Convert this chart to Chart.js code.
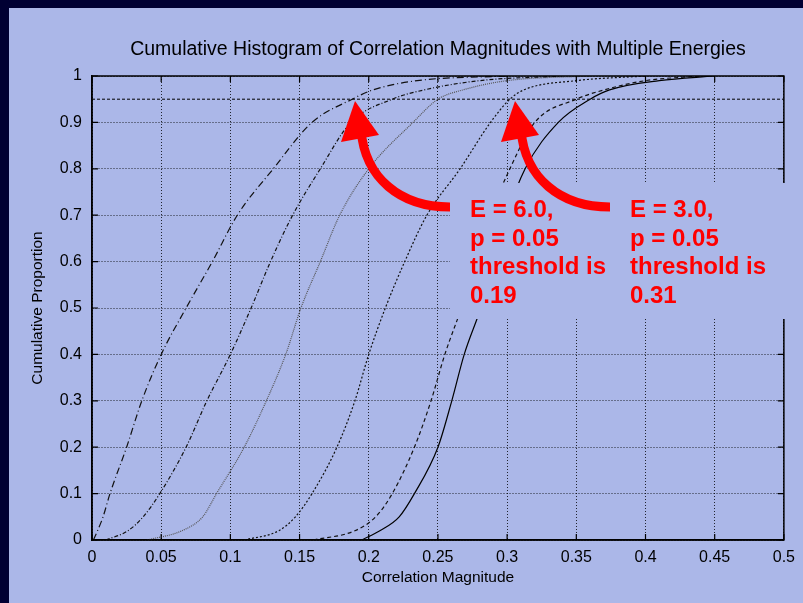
<!DOCTYPE html>
<html>
<head>
<meta charset="utf-8">
<script src="https://cdn.jsdelivr.net/npm/chart.js@4.4.1/dist/chart.umd.min.js"></script>
<style>
  html,body{margin:0;padding:0;background:#000033;}
</style>
</head>
<body>
<canvas id="c" width="803" height="603"></canvas>
<script>
// cumulative proportion levels, shared by every curve
const props = [0, 0.02, 0.05, 0.1, 0.2, 0.3, 0.4, 0.5, 0.6, 0.7, 0.8, 0.9, 0.95, 0.97, 0.99, 1];

// correlation magnitude reached at each level, one array per energy run (left to right)
const magA = [0.001, 0.004, 0.008, 0.013, 0.025, 0.036, 0.050, 0.068, 0.087, 0.105, 0.131, 0.159, 0.188, 0.203, 0.235, 0.30];
const magB = [0.010, 0.026, 0.037, 0.049, 0.068, 0.083, 0.100, 0.115, 0.129, 0.145, 0.165, 0.187, 0.217, 0.240, 0.280, 0.34];
const magC = [0.040, 0.065, 0.080, 0.090, 0.110, 0.126, 0.140, 0.151, 0.165, 0.179, 0.200, 0.232, 0.250, 0.268, 0.300, 0.36];
const magD = [0.110, 0.135, 0.147, 0.159, 0.177, 0.190, 0.200, 0.212, 0.226, 0.242, 0.266, 0.288, 0.302, 0.312, 0.350, 0.40];
const magE = [0.160, 0.190, 0.205, 0.217, 0.233, 0.245, 0.255, 0.267, 0.278, 0.288, 0.302, 0.320, 0.350, 0.370, 0.400, 0.44];
const magF = [0.195, 0.208, 0.222, 0.233, 0.250, 0.260, 0.269, 0.281, 0.291, 0.300, 0.313, 0.337, 0.360, 0.374, 0.410, 0.45];

const xTicks = [0, 0.05, 0.1, 0.15, 0.2, 0.25, 0.3, 0.35, 0.4, 0.45, 0.5];
const yTicks = [0, 0.1, 0.2, 0.3, 0.4, 0.5, 0.6, 0.7, 0.8, 0.9, 1];
const cutoff = 0.95;

const energies = ['6.0', '3.0'];
const pValues = ['0.05', '0.05'];
const thresholds = ['0.19', '0.31'];

const paper = '#abb7e8';
const red = '#ff0000';
const sans = '"Liberation Sans", Arial, sans-serif';

const runs = [
  {mag: magA, dash: [7,3,1,3], color: '#111'},
  {mag: magB, dash: [4,2,1,2], color: '#111'},
  {mag: magC, dash: [1,1],     color: '#555'},
  {mag: magD, dash: [2,2],     color: '#111'},
  {mag: magE, dash: [4,3],     color: '#111'},
  {mag: magF, dash: [],        color: '#000'}
];

const datasets = runs.map(r => ({
  data: r.mag.map((m, i) => ({x: m, y: props[i]})),
  borderColor: r.color,
  borderDash: r.dash,
  borderWidth: 1.2,
  cubicInterpolationMode: 'monotone'
}));
// the p = 0.05 cut
datasets.push({
  data: [{x: xTicks[0], y: cutoff}, {x: xTicks[xTicks.length-1], y: cutoff}],
  borderColor: '#000',
  borderDash: [3,2],
  borderWidth: 1
});

function arrow(ctx, dx){
  ctx.strokeStyle = red;
  ctx.lineWidth = 9;
  ctx.lineCap = 'butt';
  ctx.beginPath();
  ctx.moveTo(450+dx, 207);
  ctx.bezierCurveTo(400+dx, 207, 365+dx, 178, 361+dx, 130);
  ctx.stroke();
  ctx.fillStyle = red;
  ctx.beginPath();
  ctx.moveTo(355+dx, 101);
  ctx.lineTo(341+dx, 142);
  ctx.lineTo(379+dx, 135);
  ctx.closePath();
  ctx.fill();
}

const decor = {
  id: 'decor',
  beforeDraw(chart){
    const ctx = chart.ctx;
    ctx.save();
    ctx.fillStyle = '#000033';
    ctx.fillRect(0, 0, chart.width, chart.height);
    ctx.fillStyle = paper;
    ctx.fillRect(9, 8, chart.width-9, chart.height-8);
    ctx.restore();
  },
  afterDraw(chart){
    const {ctx, chartArea: a, scales: {x, y}} = chart;
    ctx.save();
    // frame and inward tics on all four sides
    ctx.strokeStyle = '#000';
    ctx.lineWidth = 1.5;
    ctx.strokeRect(a.left, a.top, a.right-a.left, a.bottom-a.top);
    ctx.lineWidth = 1.2;
    ctx.beginPath();
    xTicks.forEach(v => {
      const px = x.getPixelForValue(v);
      ctx.moveTo(px, a.bottom); ctx.lineTo(px, a.bottom-6);
      ctx.moveTo(px, a.top); ctx.lineTo(px, a.top+6);
    });
    yTicks.forEach(v => {
      const py = y.getPixelForValue(v);
      ctx.moveTo(a.left, py); ctx.lineTo(a.left+6, py);
      ctx.moveTo(a.right, py); ctx.lineTo(a.right-6, py);
    });
    ctx.stroke();

    // note panel sits over the plot
    ctx.fillStyle = paper;
    ctx.fillRect(450, 183, chart.width-450, 136);
    arrow(ctx, 0);
    arrow(ctx, 160);

    ctx.fillStyle = red;
    ctx.font = 'bold 24px ' + sans;
    ctx.textBaseline = 'alphabetic';
    energies.forEach((e, i) => {
      const lines = ['E = ' + e + ',', 'p = ' + pValues[i], 'threshold is', thresholds[i]];
      lines.forEach((t, j) => ctx.fillText(t, 470 + 160*i, 217 + 28.7*j));
    });
    ctx.restore();
  }
};

new Chart(document.getElementById('c'), {
  type: 'line',
  data: {datasets: datasets},
  options: {
    responsive: false,
    animation: false,
    devicePixelRatio: 1,
    layout: {padding: {left: 9, top: 8, right: 14, bottom: 0}},
    elements: {point: {radius: 0}, line: {tension: 0}},
    plugins: {
      legend: {display: false},
      tooltip: {enabled: false},
      title: {
        display: true,
        fullSize: false,
        text: 'Cumulative Histogram of Correlation Magnitudes with Multiple Energies',
        color: '#000',
        font: {family: sans, size: 19.5, weight: 'normal'},
        padding: {top: 30.3, bottom: 14.3}
      }
    },
    scales: {
      x: {
        type: 'linear', min: 0, max: 0.5,
        afterBuildTicks: s => { s.ticks = xTicks.map(v => ({value: v})); },
        afterFit: s => { s.height = 63; },
        ticks: {autoSkip: false, maxRotation: 0, padding: 8, color: '#000',
                font: {family: sans, size: 16}, callback: v => String(v)},
        grid: {color: 'rgba(0,0,0,0.8)', lineWidth: 1, drawTicks: false},
        border: {display: true, color: '#000', width: 1.5, dash: [1,2]},
        title: {display: true, text: 'Correlation Magnitude', color: '#000',
                font: {family: sans, size: 15.5}, padding: {top: 0, bottom: 15.7}}
      },
      y: {
        type: 'linear', min: 0, max: 1,
        afterBuildTicks: s => { s.ticks = yTicks.map(v => ({value: v})); },
        afterFit: s => { s.width = 83; },
        ticks: {padding: 10, color: '#000', font: {family: sans, size: 16}, callback: v => String(v)},
        grid: {color: 'rgba(0,0,0,0.8)', lineWidth: 1, drawTicks: false},
        border: {display: true, color: '#000', width: 1.5, dash: [1,2]},
        title: {display: true, text: 'Cumulative Proportion', color: '#000',
                font: {family: sans, size: 15.5}, padding: {top: 19.7, bottom: 0}}
      }
    }
  },
  plugins: [decor]
});
</script>
</body>
</html>
